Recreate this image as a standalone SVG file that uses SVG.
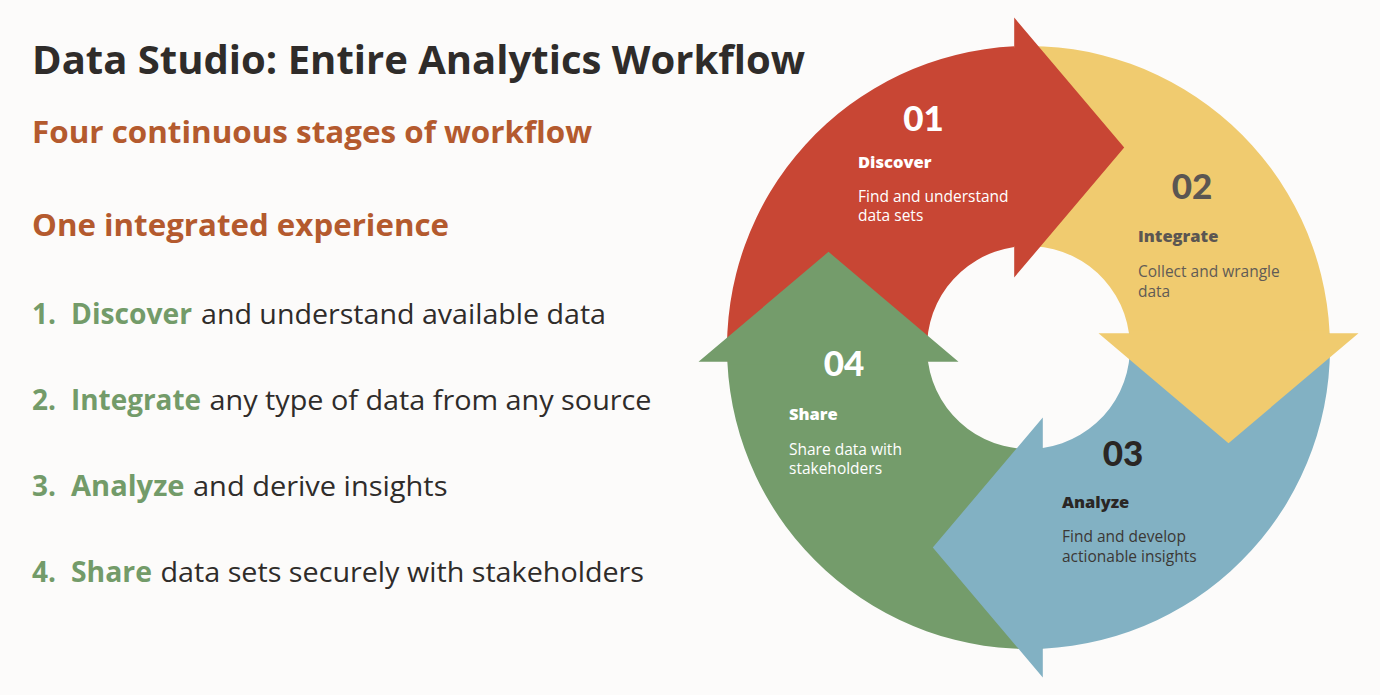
<svg xmlns="http://www.w3.org/2000/svg" width="1380" height="695" viewBox="0 0 1380 695">
<defs>
<style>
.title{font-family:"Open Sans","Liberation Sans",sans-serif;font-weight:700;fill:#2F2C2A;}
.sub{font-family:"Open Sans","Liberation Sans",sans-serif;font-weight:700;fill:#B45A2E;font-size:29.5px;}
.li{font-family:"Open Sans","Liberation Sans",sans-serif;font-size:28px;fill:#2F2C2A;}
.lib{font-weight:700;fill:#739B69;}
.num{font-family:Lato,"Liberation Sans",sans-serif;font-weight:900;font-size:35px;text-anchor:middle;}
.lab{font-family:"Open Sans","Liberation Sans",sans-serif;font-weight:800;font-size:16.5px;}
.desc{font-family:"Open Sans","Liberation Sans",sans-serif;font-weight:400;font-size:15.5px;}
</style>
<path id="body" d="M -301.16 14.3 A 301.5 301.5 0 0 1 -14.3 -301.16 L -14.3 -100.49 A 101.5 101.5 0 0 0 -100.49 14.3 Z"/>
<path id="head" d="M -14.3 -330 L 95.7 -200 L -14.3 -70 L -14.3 -101.5 L -17 -101.5 L -17 -300 L -14.3 -300 Z"/>
</defs>
<rect width="1380" height="695" fill="#FCFBFA"/>

<g id="heading">
<text class="title" x="32" y="74" font-size="39" textLength="773" lengthAdjust="spacingAndGlyphs">Data Studio: Entire Analytics Workflow</text>
<text class="sub" x="32" y="143" textLength="560" lengthAdjust="spacingAndGlyphs">Four continuous stages of workflow</text>
<text class="sub" x="32" y="236" textLength="417" lengthAdjust="spacingAndGlyphs">One integrated experience</text>
</g>

<g id="list">
<text class="li lib" x="32" y="324">1.</text>
<text class="li lib" x="71" y="324" textLength="121" lengthAdjust="spacingAndGlyphs">Discover</text>
<text class="li" x="201" y="324" textLength="405" lengthAdjust="spacingAndGlyphs">and understand available data</text>
<text class="li lib" x="32" y="410">2.</text>
<text class="li lib" x="71" y="410" textLength="130" lengthAdjust="spacingAndGlyphs">Integrate</text>
<text class="li" x="209.5" y="410" textLength="442" lengthAdjust="spacingAndGlyphs">any type of data from any source</text>
<text class="li lib" x="32" y="496">3.</text>
<text class="li lib" x="71" y="496" textLength="113.5" lengthAdjust="spacingAndGlyphs">Analyze</text>
<text class="li" x="193" y="496" textLength="254.5" lengthAdjust="spacingAndGlyphs">and derive insights</text>
<text class="li lib" x="32" y="582">4.</text>
<text class="li lib" x="71" y="582" textLength="81" lengthAdjust="spacingAndGlyphs">Share</text>
<text class="li" x="160.5" y="582" textLength="483.5" lengthAdjust="spacingAndGlyphs">data sets securely with stakeholders</text>
</g>

<g id="cycle" transform="translate(1028.5 347.5)">
<use href="#body" fill="#C84634"/>
<use href="#body" fill="#F0CB6F" transform="rotate(90)"/>
<use href="#body" fill="#82B1C3" transform="rotate(180)"/>
<use href="#body" fill="#749C6B" transform="rotate(270)"/>
<use href="#head" fill="#C84634"/>
<use href="#head" fill="#F0CB6F" transform="rotate(90)"/>
<use href="#head" fill="#82B1C3" transform="rotate(180)"/>
<use href="#head" fill="#749C6B" transform="rotate(270)"/>
</g>

<g id="stage01" fill="#FFFFFF">
<text class="num" x="923.5" y="131">01</text>
<text class="lab" x="858" y="167.5">Discover</text>
<text class="desc" x="858" y="201.5">Find and understand<tspan x="858" dy="19.5">data sets</tspan></text>
</g>
<g id="stage02" fill="#5B5652">
<text class="num" x="1192" y="199">02</text>
<text class="lab" x="1138" y="242">Integrate</text>
<text class="desc" x="1138" y="277" fill="#615B56">Collect and wrangle<tspan x="1138" dy="19.5">data</tspan></text>
</g>
<g id="stage03" fill="#2A2624">
<text class="num" x="1123" y="466">03</text>
<text class="lab" x="1062" y="507.5">Analyze</text>
<text class="desc" x="1062" y="542" fill="#3B3835">Find and develop<tspan x="1062" dy="19.5">actionable insights</tspan></text>
</g>
<g id="stage04" fill="#FFFFFF">
<text class="num" x="844" y="376">04</text>
<text class="lab" x="789" y="420">Share</text>
<text class="desc" x="789" y="454.5">Share data with<tspan x="789" dy="19.5">stakeholders</tspan></text>
</g>
</svg>
